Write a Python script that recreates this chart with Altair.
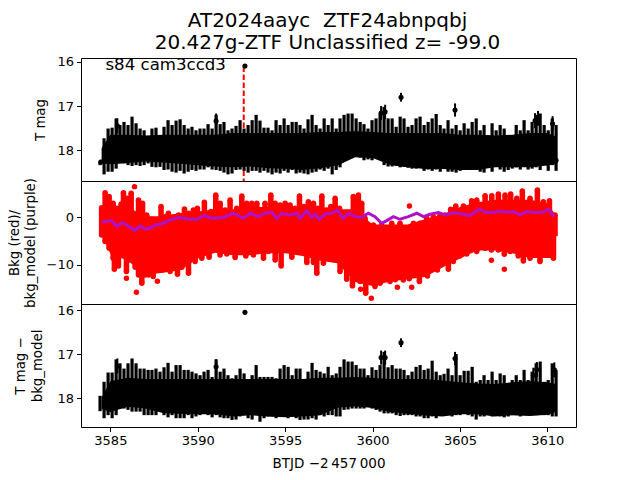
import altair as alt
import pandas as pd

FONT = "DejaVu Sans"
XDOM = [3583.32, 3611.64]

# column positions of the black error-bar spikes
T = [3584.41,3584.64,3584.87,3585.10,3585.33,3585.55,3585.78,3586.01,3586.24,3586.47,
     3586.70,3586.93,3587.16,3587.38,3587.61,3587.84,3588.07,3588.30,3588.53,3588.76,
     3588.99,3589.22,3589.45,3589.67,3589.90,3590.13,3590.36,3590.59,3590.82,3591.05,
     3591.28,3591.50,3591.73,3591.96,3592.19,3592.42,3592.65,3592.88,3593.11,3593.34,
     3593.56,3593.79,3594.02,3594.25,3594.48,3594.71,3594.94,3595.17,3595.40,3595.63,
     3595.85,3596.08,3596.31,3596.54,3596.77,3597.00,3597.23,3597.46,3597.69,3597.92,
     3598.14,
     3598.37,3598.60,3598.83,3599.06,3599.29,3599.51,3599.74,3599.97,3600.20,3600.43,
     3600.66,3600.89,3601.12,3601.35,3601.58,3601.80,3602.03,3602.26,3602.49,3602.72,
     3602.95,3603.18,3603.41,3603.64,3603.87,3604.09,3604.32,3604.55,3604.78,3605.01,
     3605.24,3605.47,3605.70,3605.93,3606.16,3606.38,3606.61,3606.84,3607.07,3607.30,
     3607.53,3607.76,3607.99,3608.22,3608.45,3608.67,3608.90,3609.13,3609.36,3609.59,
     3609.82,3610.05,3610.28,3610.50]

# top panel: spike ends (T mag)
top_hi = [18.27,17.73,17.51,17.49,17.28,17.43,17.36,17.43,17.24,17.39,
          17.51,17.55,17.77,17.51,17.49,17.73,17.47,17.32,17.43,17.33,
          17.30,17.43,17.51,17.47,17.55,17.51,17.51,17.41,17.51,17.20,
          17.41,17.36,17.55,17.51,17.45,17.32,17.51,17.43,17.32,17.20,
          17.33,17.49,17.49,17.55,17.32,17.43,17.28,17.43,17.36,17.36,
          17.43,17.51,17.30,17.20,17.43,17.51,17.28,17.43,17.28,17.51,
          17.28,
          17.20,17.17,17.17,17.28,17.36,17.41,17.51,17.32,17.28,17.17,
          17.02,17.28,17.28,17.47,17.24,17.28,17.47,17.43,17.28,17.24,
          17.43,17.36,17.28,17.18,17.43,17.51,17.32,17.51,17.43,17.55,
          17.39,17.51,17.36,17.28,17.55,17.43,17.66,17.39,17.55,17.43,
          17.51,17.70,17.70,17.43,17.55,17.32,17.55,17.36,17.20,17.17,
          17.43,17.55,17.28,17.43]
top_lo = [18.34,18.55,18.49,18.49,18.42,18.30,18.30,18.34,18.36,18.34,
          18.36,18.34,18.30,18.38,18.39,18.38,18.45,18.44,18.49,18.51,
          18.47,18.53,18.49,18.45,18.47,18.44,18.44,18.39,18.44,18.45,
          18.47,18.51,18.55,18.53,18.45,18.44,18.47,18.51,18.47,18.47,
          18.51,18.47,18.51,18.55,18.51,18.53,18.47,18.51,18.45,18.53,
          18.51,18.53,18.55,18.51,18.49,18.44,18.47,18.42,18.55,18.45,
          18.39,
          18.24,18.20,18.18,18.12,18.17,18.23,18.21,18.23,18.19,18.22,
          18.34,18.37,18.37,18.36,18.39,18.38,18.40,18.42,18.42,18.37,
          18.47,18.44,18.47,18.44,18.49,18.39,18.49,18.49,18.51,18.47,
          18.44,18.39,18.45,18.39,18.49,18.51,18.38,18.49,18.34,18.44,
          18.49,18.45,18.42,18.39,18.44,18.34,18.44,18.42,18.39,18.45,
          18.34,18.47,18.34,18.47]

# bottom panel: spike ends (T mag - bkg_model)
bot_hi = [17.95,17.63,17.42,17.42,17.12,17.21,17.33,17.21,17.10,17.21,
          17.33,17.33,17.36,17.36,17.33,17.40,17.30,17.20,17.40,17.25,
          17.25,17.36,17.36,17.40,17.44,17.48,17.40,17.36,17.52,17.12,
          17.40,17.33,17.48,17.55,17.48,17.33,17.44,17.63,17.48,17.25,
          17.52,17.52,17.52,17.52,17.55,17.33,17.25,17.29,17.48,17.33,
          17.33,17.63,17.40,17.20,17.36,17.40,17.44,17.29,17.48,17.44,
          17.29,
          17.12,17.17,17.17,17.25,17.33,17.33,17.48,17.30,17.36,17.25,
          16.95,17.30,17.25,17.33,17.33,17.36,17.48,17.40,17.29,17.25,
          17.36,17.33,17.15,17.40,17.48,17.45,17.33,17.48,17.00,17.48,
          17.38,17.38,17.29,17.63,17.59,17.48,17.59,17.40,17.59,17.44,
          17.48,17.73,17.59,17.48,17.59,17.36,17.59,17.40,17.21,17.17,
          17.63,17.59,17.21,17.36]
bot_lo = [18.30,18.46,18.39,18.46,18.39,18.24,18.24,18.27,18.31,18.31,
          18.31,18.39,18.39,18.39,18.39,18.12,18.39,18.44,18.39,18.46,
          18.46,18.46,18.39,18.46,18.42,18.39,18.35,18.39,18.44,18.39,
          18.44,18.46,18.46,18.50,18.49,18.42,18.39,18.46,18.49,18.39,
          18.54,18.46,18.42,18.42,18.46,18.39,18.42,18.46,18.39,18.46,
          18.50,18.49,18.49,18.46,18.49,18.39,18.42,18.39,18.39,18.42,
          18.42,
          18.27,18.26,18.24,18.24,18.24,18.24,18.18,18.24,18.27,18.31,
          18.35,18.35,18.35,18.39,18.41,18.39,18.39,18.39,18.42,18.42,
          18.46,18.46,18.42,18.46,18.39,18.35,18.39,18.42,18.39,18.39,
          18.35,18.39,18.42,18.49,18.42,18.42,18.35,18.42,18.39,18.42,
          18.44,18.42,18.39,18.39,18.42,18.39,18.35,18.39,18.39,18.35,
          18.39,18.39,18.42,18.42]

# solid inner band of every panel
core_t = [3584.5,3585,3586,3587,3588,3589,3590,3591,3592,3593,3594,3595,3596,3597,
          3598,3599,3600,3601,3602,3603,3604,3605,3606,3607,3608,3609,3610,3610.5]
top_core_hi = [17.95,17.65,17.65,17.67,17.65,17.65,17.65,17.65,17.61,17.61,17.61,17.61,17.61,17.59,
               17.59,17.57,17.59,17.61,17.61,17.61,17.61,17.65,17.65,17.67,17.65,17.61,17.61,17.69]
top_core_lo = [18.30,18.32,18.29,18.26,18.28,18.31,18.34,18.37,18.39,18.37,18.41,18.42,18.45,18.41,
               18.35,18.16,18.18,18.33,18.39,18.43,18.43,18.45,18.45,18.39,18.39,18.39,18.35,18.32]
bot_core_hi = [17.98,17.62,17.54,17.57,17.57,17.57,17.57,17.57,17.57,17.57,17.57,17.57,17.57,17.54,
               17.54,17.52,17.54,17.57,17.57,17.57,17.60,17.64,17.67,17.68,17.64,17.62,17.64,17.68]
bot_core_lo = [18.25,18.32,18.20,18.24,18.34,18.36,18.37,18.37,18.42,18.39,18.42,18.44,18.42,18.39,
               18.22,18.19,18.23,18.32,18.36,18.40,18.42,18.37,18.37,18.42,18.39,18.41,18.38,18.32]
red_core_hi = [0.5,2.2,2.2,0.2,0.2,0.9,1.2,1.7,1.7,2.2,2.2,2.2,2.2,2.2,
               1.7,1.7,-1.5,-1.5,-1.5,-0.4,0.6,2.2,3.2,3.7,3.7,3.7,3.0,0.3]
red_core_lo = [-3.7,-7.7,-9.2,-12.2,-11.7,-11.2,-8.7,-7.5,-8.0,-8.0,-7.6,-7.6,-8.2,-9.2,
               -9.7,-13.7,-14.5,-13.6,-13.1,-12.6,-10.6,-8.7,-7.0,-7.0,-7.6,-8.6,-8.6,-8.6]

# isolated measurements with their error bars
top_pt_t   = [3592.70,3601.63,3604.72,3600.49,3600.72,3585.40,3591.05,3609.47,3609.30,3610.30,3610.50,3584.45]
top_pt_m   = [16.09,16.80,17.09,17.16,17.13,17.45,17.34,17.28,17.33,17.40,18.23,18.27]
top_pt_e   = [0.02,0.10,0.15,0.16,0.16,0.17,0.17,0.17,0.17,0.17,0.05,0.05]
bot_pt_t   = [3592.70,3601.63,3604.72,3600.49,3600.72,3585.40,3591.05,3609.40,3609.20,3610.40,3610.40,3610.40]
bot_pt_m   = [16.05,16.74,17.10,17.08,17.08,17.27,17.29,17.35,17.48,17.36,17.76,18.08]
bot_pt_e   = [0.02,0.10,0.15,0.16,0.16,0.17,0.17,0.17,0.17,0.17,0.05,0.05]

# red background samples: upper and lower edge of the cloud
red_up_t = [3584.50,3584.70,3584.93,3585.16,3585.39,3585.62,3585.75,3585.98,3586.19,3586.61,3586.84,3587.08,3587.37,3587.90,
            3588.13,3588.32,3588.61,3588.90,3589.24,3589.47,3589.75,3589.98,3590.38,3590.75,3591.03,3591.28,3591.57,3591.85,
            3592.23,3592.52,3592.80,3593.09,3593.38,3593.85,3594.18,3594.43,3594.71,3595.00,3595.28,3595.57,3595.82,3596.08,
            3596.33,3596.62,3596.85,3597.10,3597.38,3597.61,3597.86,3598.11,3598.43,3598.90,3599.19,3599.38,3599.57,3600.05,
            3600.52,3601.10,3601.57,3602.34,3602.72,3603.10,3603.48,3603.86,3604.15,3604.47,3604.76,3605.20,3605.67,3605.96,
            3606.44,3606.82,3607.20,3607.58,3607.90,3608.25,3608.57,3609.01,3609.43,3609.77,3610.12,3610.44]
red_up_v = [2.00,5.21,4.37,2.96,1.90,2.82,5.21,4.02,5.07,3.66,2.96,0.50,-0.42,2.26,
            0.14,0.85,0.14,0.50,1.76,0.85,1.55,1.90,3.17,1.20,4.72,2.96,1.55,3.66,
            1.90,4.51,2.96,2.96,2.96,2.96,4.72,2.96,2.61,2.96,2.61,1.90,4.51,2.26,
            3.31,2.96,1.90,4.51,1.55,2.26,4.02,1.90,0.50,4.37,4.72,2.96,-0.21,-1.62,
            -1.62,-1.27,-1.27,-1.27,-1.27,-0.21,0.14,0.50,0.50,1.69,2.40,2.40,3.52,3.66,
            4.58,4.58,4.93,4.72,4.93,4.02,5.57,4.02,5.78,3.31,3.52,0.50]
red_lo_t = [3584.51,3584.70,3584.93,3585.16,3585.23,3585.46,3585.75,3585.92,3586.13,3586.42,3586.61,3586.80,3586.99,3587.18,
            3587.45,3587.94,3588.42,3588.84,3589.09,3589.47,3589.85,3590.23,3590.65,3590.90,3591.28,3591.66,3592.14,3592.42,
            3592.75,3593.19,3593.76,3594.04,3594.43,3594.77,3595.09,3595.38,3595.86,3596.24,3596.62,3596.81,3597.19,3597.57,
            3597.86,3598.14,3598.52,3598.85,3599.29,3599.61,3600.14,3600.43,3601.00,3601.30,3601.76,3602.10,3602.68,3603.14,
            3603.71,3604.34,3604.62,3605.00,3605.39,3605.96,3606.44,3606.80,3607.20,3607.54,3607.87,3608.34,3608.63,3609.01,
            3609.58,3609.87,3610.35]
red_lo_v = [-3.73,-5.14,-6.55,-8.66,-10.98,-10.28,-7.25,-11.48,-9.01,-10.56,-12.18,-13.94,-12.18,-12.18,
            -12.50,-11.12,-11.48,-12.04,-10.56,-11.83,-9.36,-8.66,-8.45,-6.55,-7.96,-7.74,-8.52,-7.25,
            -8.17,-7.96,-8.66,-7.25,-9.01,-10.28,-6.90,-8.45,-6.90,-9.57,-9.57,-11.83,-9.72,-7.46,
            -9.01,-11.48,-13.10,-14.50,-13.59,-16.05,-14.65,-13.94,-13.59,-13.20,-13.24,-13.00,-13.59,-12.39,
            -11.12,-10.98,-9.36,-8.17,-7.74,-7.25,-6.55,-6.90,-6.90,-7.80,-7.25,-8.17,-9.22,-8.66,
            -9.36,-7.96,-8.66]
red_out_t = [3586.38,3586.49,3585.92,3587.69,3599.93,3599.32,3601.42,3602.24,3602.11,3606.80,3607.54]
red_out_v = [6.48,-15.84,-12.88,-13.52,-17.11,-15.21,-14.79,-14.79,2.40,-9.08,-10.98]

# purple background model
model_t = [3584.51,3584.80,3585.08,3585.37,3585.65,3585.94,3586.42,3586.70,3586.99,3587.27,3587.56,3587.94,3588.32,3588.99,
           3589.47,3589.94,3590.36,3590.80,3591.47,3592.04,3592.61,3592.99,3593.47,3593.85,3594.23,3594.52,3594.81,3595.28,
           3595.67,3595.86,3596.24,3596.52,3596.71,3596.96,3597.29,3597.67,3597.99,3598.29,3598.67,3599.00,3599.38,3599.76,
           3600.14,3600.52,3600.81,3601.19,3601.57,3602.05,3602.53,3602.91,3603.29,3603.77,3604.15,3604.63,3605.10,3605.58,
           3606.11,3606.44,3606.91,3607.29,3607.68,3608.06,3608.44,3608.82,3609.30,3609.68,3610.06,3610.38]
model_v = [-1.05,-0.84,-0.70,-1.97,-1.12,-1.62,-2.81,-1.83,-2.53,-2.32,-1.62,-1.41,-0.70,0.00,
           -0.42,-0.42,0.36,-0.21,-0.07,0.85,-0.21,0.85,0.14,0.85,1.06,-0.21,0.85,0.50,
           0.85,-0.21,1.41,0.00,0.64,-0.42,0.71,0.85,1.55,-0.21,0.85,0.14,0.00,0.85,
           0.14,-1.27,-0.70,0.14,-0.42,0.14,0.85,0.14,0.64,1.00,0.50,1.00,0.71,0.36,
           1.76,1.00,1.00,1.34,1.06,1.20,0.50,1.20,1.00,1.00,1.69,0.14]

spikes_top = pd.DataFrame({"t": T, "hi": top_hi, "lo": top_lo})
spikes_bot = pd.DataFrame({"t": T, "hi": bot_hi, "lo": bot_lo})
core_top = pd.DataFrame({"t": core_t, "hi": top_core_hi, "lo": top_core_lo})
core_bot = pd.DataFrame({"t": core_t, "hi": bot_core_hi, "lo": bot_core_lo})
core_red = pd.DataFrame({"t": core_t, "v": red_core_hi, "lo": red_core_lo})
pts_top = pd.DataFrame({"t": top_pt_t, "m": top_pt_m, "e": top_pt_e})
pts_bot = pd.DataFrame({"t": bot_pt_t, "m": bot_pt_m, "e": bot_pt_e})
for d in (pts_top, pts_bot):
    d["a"] = d.m - d.e
    d["b"] = d.m + d.e
red_edge = pd.DataFrame({"t": red_up_t + red_lo_t, "v": red_up_v + red_lo_v})
red_out = pd.DataFrame({"t": red_out_t, "v": red_out_v})
model = pd.DataFrame({"t": model_t, "v": model_v})

X = alt.X("t:Q", scale=alt.Scale(domain=XDOM, nice=False, zero=False), axis=None)
XB = alt.X("t:Q", scale=alt.Scale(domain=XDOM, nice=False, zero=False),
           axis=alt.Axis(values=[3585, 3590, 3595, 3600, 3605, 3610], format="d", grid=False, domain=False,
                         title="BTJD \u22122\u2009457\u2009000", titleFontWeight="normal", titleFontSize=13.5,
                         titleFont=FONT, titlePadding=9))


def yax(vals, title, tx, lh=16):
    return alt.Axis(values=vals, grid=False, domain=False, title=title, titleFontWeight="normal",
                    titleFontSize=13.3, titleFont=FONT, titleX=tx, titleLineHeight=lh, format="d")


def black_panel(x, dom, title, tx, lh, spikes, core, pts):
    yscale = alt.Scale(domain=dom, nice=False, zero=False)
    Y = alt.Y("hi:Q", scale=yscale, axis=yax([16, 17, 18], title, tx, lh))
    band = alt.Chart(core).mark_area(color="black", clip=True).encode(x=x, y=Y, y2="lo:Q")
    sp = alt.Chart(spikes).mark_rule(color="black", strokeWidth=3.2, clip=True).encode(x=x, y=Y, y2="lo:Q")
    eb = alt.Chart(pts).mark_rule(color="black", strokeWidth=2, clip=True).encode(
        x=x, y=alt.Y("a:Q", scale=yscale), y2="b:Q")
    dot = alt.Chart(pts).mark_circle(color="black", size=26, opacity=1, clip=True).encode(
        x=x, y=alt.Y("m:Q", scale=yscale))
    return band, sp, eb, dot, yscale


band, sp, eb, dot, ys = black_panel(X, [18.70, 15.91], "T mag", -34, 16, spikes_top, core_top, pts_top)
vline = alt.Chart(pd.DataFrame({"t": [3592.63], "a": [16.10], "b": [18.70]})).mark_rule(
    color="red", strokeWidth=2, strokeDash=[5.5, 2.5], clip=True).encode(
    x=X, y=alt.Y("a:Q", scale=ys), y2="b:Q")
label = alt.Chart(pd.DataFrame({"t": [3584.72], "m": [16.07], "s": ["s84 cam3ccd3"]})).mark_text(
    font=FONT, fontSize=16.6, align="left", baseline="middle", color="black").encode(
    x=X, y=alt.Y("m:Q", scale=ys), text="s:N")
top = alt.layer(vline, band, sp, eb, dot, label).properties(width=495, height=123)

mscale = alt.Scale(domain=[-18.33, 7.67], nice=False, zero=False)
MY = alt.Y("v:Q", scale=mscale,
           axis=yax([0, -10], ["Bkg (red)/", "bkg_model (purple)"], -60))
red_band = alt.Chart(core_red).mark_area(color="red", clip=True).encode(x=X, y=MY, y2="lo:Q")
red_fill = alt.Chart(red_edge).mark_rule(color="red", strokeWidth=5.5, clip=True).encode(
    x=X, y=MY, y2=alt.Y2(datum=-4))
red_dots = alt.Chart(red_edge).mark_circle(color="red", size=30, opacity=1, clip=True).encode(x=X, y=MY)
red_o = alt.Chart(red_out).mark_circle(color="red", size=30, opacity=1, clip=True).encode(x=X, y=MY)
mline = alt.Chart(model).mark_line(color="#b010c8", strokeWidth=3, clip=True).encode(x=X, y=MY)
mid = alt.layer(red_band, red_fill, red_dots, red_o, mline).properties(width=495, height=123)

band2, sp2, eb2, dot2, _ = black_panel(XB, [18.66, 15.86], ["T mag \u2212", "bkg_model"], -54, 17, spikes_bot, core_bot, pts_bot)
bot = alt.layer(band2, sp2, eb2, dot2).properties(width=495, height=123)

chart = alt.vconcat(top, mid, bot, spacing=0, bounds="flush").properties(
    padding={"left": -2, "top": 3, "right": 5, "bottom": 5},
    title=alt.TitleParams(text=["AT2024aayc\u00a0 ZTF24abnpqbj", "20.427g-ZTF Unclassified z= -99.0"],
                          font=FONT, fontSize=20, fontWeight="normal", anchor="middle",
                          lineHeight=21.5, color="black", offset=2.5, dx=36),
).configure_view(stroke="black", strokeWidth=1).configure_axis(
    labelFont=FONT, labelFontSize=13, labelColor="black", tickColor="black", tickSize=4.5,
    titleColor="black", labelPadding=3)

chart.save("out.html", embed_options={"renderer": "svg", "actions": False})
